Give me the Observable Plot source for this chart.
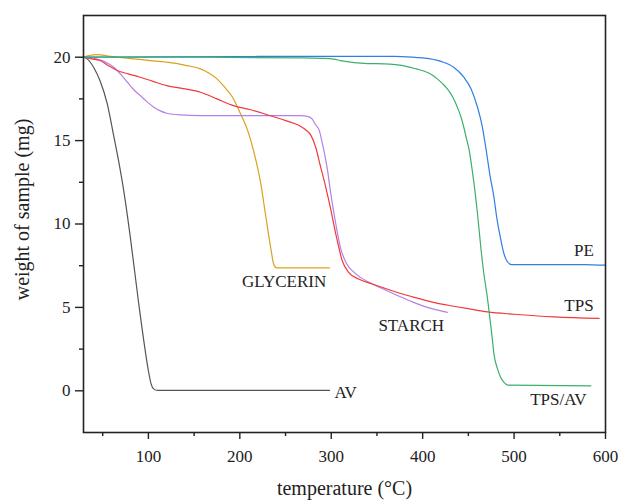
<!DOCTYPE html>
<html>
<head>
<meta charset="utf-8">
<script src="https://cdn.jsdelivr.net/npm/d3@7"></script>
<script src="https://cdn.jsdelivr.net/npm/@observablehq/plot@0.6"></script>
<style>
  html, body { margin: 0; padding: 0; background: #fff; }
  #chart svg { display: block; }
</style>
</head>
<body>
<div id="chart"></div>
<script>
// Series: [temperature (°C), weight (mg)]
const AV = [[29,20],[33,19.9],[40,19.4],[47,18.6],[55,17.2],[62,15.3],[68,13.6],[73,12.0],[80,9.3],[89,5.4],[96,2.6],[100,1.2],[103,0.4],[106,0.1],[110,0.02],[298,0.02]];
const GLYCERIN = [[29,20],[35,20.1],[44,20.15],[58,20.05],[84,19.9],[102,19.8],[120,19.7],[142,19.5],[157,19.3],[166,19.05],[175,18.7],[185,18.1],[192,17.6],[200,16.7],[208,15.7],[215,14.4],[223,12.4],[228,10.6],[234,8.5],[237,7.6],[240,7.37],[298,7.37]];
const STARCH = [[29,20],[40,19.95],[47,19.84],[55,19.65],[62,19.4],[70,18.95],[77,18.5],[84,18.05],[91,17.7],[98,17.35],[106,17.0],[113,16.78],[120,16.64],[135,16.54],[157,16.5],[266,16.5],[274,16.45],[279,16.3],[283,15.95],[287,15.6],[290,14.9],[292,14.4],[296,13.2],[299,12.0],[301,11.3],[305,10.0],[310,8.6],[317,7.6],[325,7.1],[332,6.8],[345,6.4],[361,6.0],[375,5.65],[390,5.3],[405,5.0],[427,4.7]];
const TPS = [[29,20],[38,19.9],[47,19.8],[56,19.5],[66,19.2],[78,19.0],[91,18.8],[105,18.55],[120,18.3],[140,18.1],[157,17.9],[175,17.5],[193,17.1],[212,16.85],[230,16.55],[250,16.2],[265,15.9],[272,15.65],[278,15.3],[283,14.6],[288,13.5],[294,12.2],[299,11.0],[305,9.4],[312,7.8],[319,7.1],[330,6.7],[345,6.4],[361,6.1],[375,5.85],[391,5.6],[412,5.3],[434,5.07],[452,4.9],[471,4.73],[500,4.59],[544,4.43],[593,4.34]];
const PE = [[29,20],[100,20.02],[200,20.04],[266,20.05],[369,20.05],[394,19.98],[402,19.95],[420,19.75],[434,19.4],[445,18.8],[453,18.1],[460,17.0],[465,15.9],[469,14.6],[474,12.8],[478,11.6],[481,10.4],[485,9.2],[489,8.2],[492,7.8],[497,7.57],[577,7.57],[599,7.53]];
const TPS_AV = [[29,20],[100,20],[157,20],[266,19.96],[290,19.93],[303,19.88],[310,19.8],[325,19.68],[340,19.62],[358,19.6],[370,19.55],[383,19.44],[393,19.3],[402,19.16],[410,18.95],[416,18.7],[422,18.4],[427,18.1],[433,17.6],[438,17.0],[442,16.4],[445,15.8],[448,15.1],[451,14.4],[454,13.3],[456,12.5],[460,10.6],[464,8.4],[467,7.0],[471,5.5],[473,4.6],[476,3.2],[478,2.2],[482,1.3],[485,0.84],[489,0.5],[493,0.34],[584,0.3]];

const seriesNames = ["AV", "GLYCERIN", "STARCH", "TPS", "PE", "TPS/AV"];
const seriesData = [AV, GLYCERIN, STARCH, TPS, PE, TPS_AV];
const seriesColors = ["#555555", "#d9a21b", "#b67fe6", "#f03a3a", "#2f7fe4", "#3daf6c"];

// Curve labels: [text, temperature, weight]
const labels = [["PE",576.5,8.42],["TPS",571,5.13],["TPS/AV",548.5,-0.53],["STARCH",387.5,3.93],["GLYCERIN",248.4,6.57],["AV",315.8,-0.08]];

const xTicks = [100, 200, 300, 400, 500, 600];
const xMinor = [50, 150, 250, 350, 450, 550];
const yTicks = [0, 5, 10, 15, 20];
const yMinor = [2.5, 7.5, 12.5, 17.5];

const rows = seriesData.flatMap((s, i) => s.map(([t, w]) => ({series: seriesNames[i], t, w})));
const labelRows = labels.map(([text, t, w]) => ({text, t, w}));

const chart = Plot.plot({
  width: 618,
  height: 501,
  marginLeft: 83,
  marginTop: 15,
  marginRight: 13,
  marginBottom: 69,
  style: {fontFamily: "'Liberation Serif', 'Times New Roman', serif", fontSize: "17px", color: "#222", background: "#fff"},
  x: {domain: [29, 600]},
  y: {domain: [-2.5, 22.5]},
  color: {domain: seriesNames, range: seriesColors},
  marks: [
    Plot.line(rows, {x: "t", y: "w", z: "series", stroke: "series", strokeWidth: 1.2, curve: "monotone-x"}),
    Plot.text(labelRows, {x: "t", y: "w", text: "text", fontSize: 17, fill: "#222", textAnchor: "middle", lineAnchor: "middle"}),
    Plot.frame({stroke: "#222", strokeWidth: 1.6}),
    Plot.axisX({ticks: xTicks, tickSize: 7, tickPadding: 10, fontSize: 17, label: null, stroke: "#222", strokeWidth: 1.4}),
    Plot.axisX({ticks: xMinor, tickSize: 4, text: null, label: null, stroke: "#222", strokeWidth: 1.4}),
    Plot.axisY({ticks: yTicks, tickSize: 8, tickPadding: 5, fontSize: 17, label: null, stroke: "#222", strokeWidth: 1.4}),
    Plot.axisY({ticks: yMinor, tickSize: 4, text: null, label: null, stroke: "#222", strokeWidth: 1.4}),
    Plot.text(["temperature (°C)"], {frameAnchor: "bottom", dy: 56, fontSize: 20, fill: "#222", textAnchor: "middle", lineAnchor: "middle"}),
    Plot.text(["weight of sample (mg)"], {frameAnchor: "left", dx: -61, dy: -14.5, rotate: -90, fontSize: 20, fill: "#222", textAnchor: "middle", lineAnchor: "middle"})
  ]
});
document.getElementById("chart").append(chart);
</script>
</body>
</html>
